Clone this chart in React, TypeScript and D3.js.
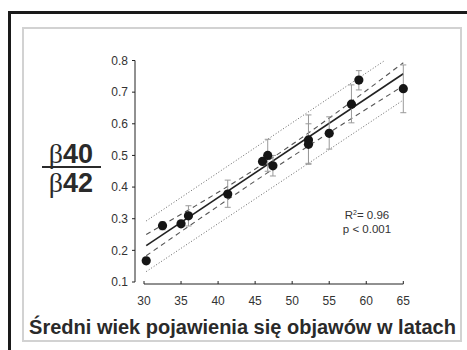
import React from 'react';
import * as d3 from 'd3';

// mean age of onset (years) and beta40/beta42 ratio per point
const ageX = [30.3, 32.5, 35.0, 36.0, 41.3, 46.0, 46.7, 47.4, 52.2, 52.2, 55.0, 58.0, 59.0, 65.0];
const ratioY = [0.167, 0.278, 0.284, 0.309, 0.378, 0.481, 0.5, 0.467, 0.549, 0.535, 0.57, 0.662, 0.738, 0.711];
// error bar ends (null = no visible bar)
const errTop = [0.178, 0.29, null, 0.341, 0.422, null, 0.551, 0.5, 0.628, 0.6, 0.622, 0.723, 0.768, 0.786];
const errBottom = [0.157, 0.265, null, 0.277, 0.336, null, 0.45, 0.435, 0.472, 0.475, 0.52, 0.603, 0.707, 0.635];

// regression line and bands
const fitX = [30.3, 65];
const fitY = [0.215, 0.758];
const ciX = [30.3, 47.5, 65];
const ciUpper = [0.25, 0.495, 0.793];
const ciLower = [0.183, 0.458, 0.72];
const piUpperX = [30.3, 62.5];
const piUpper = [0.293, 0.8];
const piLowerX = [30.3, 65];
const piLower = [0.133, 0.675];

const xTicks = [30, 35, 40, 45, 50, 55, 60, 65];
const yTicks = [0.1, 0.2, 0.3, 0.4, 0.5, 0.6, 0.7, 0.8];

const title = 'Średni wiek pojawienia się objawów w latach';

export default function App() {
  const x = d3.scaleLinear().domain([30, 65]).range([144, 403.3]);
  const y = d3.scaleLinear().domain([0.1, 0.8]).range([282, 60.5]);
  const axisY = 284;
  const axisX = 135;

  const line = d3.line<[number, number]>()
    .x(d => x(d[0]))
    .y(d => y(d[1]));
  const curve = d3.line<[number, number]>()
    .x(d => x(d[0]))
    .y(d => y(d[1]))
    .curve(d3.curveNatural);

  const zip = (xs: number[], ys: number[]) => xs.map((v, i) => [v, ys[i]] as [number, number]);
  const sans = '"Liberation Sans", Arial, sans-serif';

  return (
    <svg width={467} height={350} style={{ position: 'absolute', left: 0, top: 0, background: '#fff' }}>
      {/* outer black frame (top & left) */}
      <path d="M9.5,350 L9.5,12.5 L467,12.5" fill="none" stroke="#1a1a1a" strokeWidth={3} />
      {/* inner gray box */}
      <rect x={23} y={28} width={438} height={313} fill="#fff" stroke="#d2d2d2" strokeWidth={2} />

      {/* bands */}
      <path d={line(zip(piUpperX, piUpper)) || ''} fill="none" stroke="#666" strokeWidth={1} strokeDasharray="1 2" />
      <path d={line(zip(piLowerX, piLower)) || ''} fill="none" stroke="#666" strokeWidth={1} strokeDasharray="1 2" />
      <path d={curve(zip(ciX, ciUpper)) || ''} fill="none" stroke="#555" strokeWidth={1.1} strokeDasharray="5 4" />
      <path d={curve(zip(ciX, ciLower)) || ''} fill="none" stroke="#555" strokeWidth={1.1} strokeDasharray="5 4" />
      <path d={line(zip(fitX, fitY)) || ''} fill="none" stroke="#222" strokeWidth={1.6} />

      {/* error bars */}
      {ageX.map((a, i) => {
        const t = errTop[i];
        const b = errBottom[i];
        if (t == null || b == null) return null;
        const cx = x(a);
        return (
          <g key={'e' + i} stroke="#9a9a9a" strokeWidth={1}>
            <line x1={cx} x2={cx} y1={y(t)} y2={y(b)} />
            <line x1={cx - 3} x2={cx + 3} y1={y(t)} y2={y(t)} />
            <line x1={cx - 3} x2={cx + 3} y1={y(b)} y2={y(b)} />
          </g>
        );
      })}

      {/* points */}
      {ageX.map((a, i) => (
        <circle key={'p' + i} cx={x(a)} cy={y(ratioY[i])} r={4.6} fill="#151515" />
      ))}

      {/* y axis */}
      <line x1={axisX} x2={axisX} y1={y(0.8)} y2={y(0.1)} stroke="#222" strokeWidth={1} />
      {yTicks.map(t => (
        <g key={'y' + t}>
          <line x1={axisX - 3} x2={axisX} y1={y(t)} y2={y(t)} stroke="#222" />
          <text x={128} y={y(t) + 4.2} textAnchor="end" fontFamily={sans} fontSize={12} fill="#333">
            {d3.format('.1f')(t)}
          </text>
        </g>
      ))}

      {/* x axis */}
      <line x1={x(30)} x2={x(65)} y1={axisY} y2={axisY} stroke="#222" strokeWidth={1} />
      {xTicks.map(t => (
        <g key={'x' + t}>
          <line x1={x(t)} x2={x(t)} y1={axisY - 3} y2={axisY} stroke="#222" />
          <text x={x(t)} y={304.5} textAnchor="middle" fontFamily={sans} fontSize={12} fill="#333">
            {t}
          </text>
        </g>
      ))}

      {/* R^2 annotation */}
      <text x={367} y={219} textAnchor="middle" fontFamily={sans} fontSize={11.5} fill="#333">
        R<tspan dy={-4} fontSize={7}>2</tspan><tspan dy={4}>= 0.96</tspan>
      </text>
      <text x={367} y={233} textAnchor="middle" fontFamily={sans} fontSize={11.5} fill="#333">
        p &lt; 0.001
      </text>

      {/* y label: fraction */}
      <text x={71} y={163} textAnchor="middle" fill="#2a2a2a">
        <tspan fontFamily='"Liberation Serif", serif' fontSize={28}>β</tspan>
        <tspan fontFamily={sans} fontWeight="bold" fontSize={27}>40</tspan>
      </text>
      <line x1={42} x2={101} y1={167} y2={167} stroke="#2a2a2a" strokeWidth={2} />
      <text x={71} y={192} textAnchor="middle" fill="#2a2a2a">
        <tspan fontFamily='"Liberation Serif", serif' fontSize={28}>β</tspan>
        <tspan fontFamily={sans} fontWeight="bold" fontSize={27}>42</tspan>
      </text>

      {/* x title */}
      <text x={242.5} y={334} textAnchor="middle" fontFamily={sans} fontWeight="bold" fontSize={20} fill="#2a2a2a">
        {title}
      </text>
    </svg>
  );
}
